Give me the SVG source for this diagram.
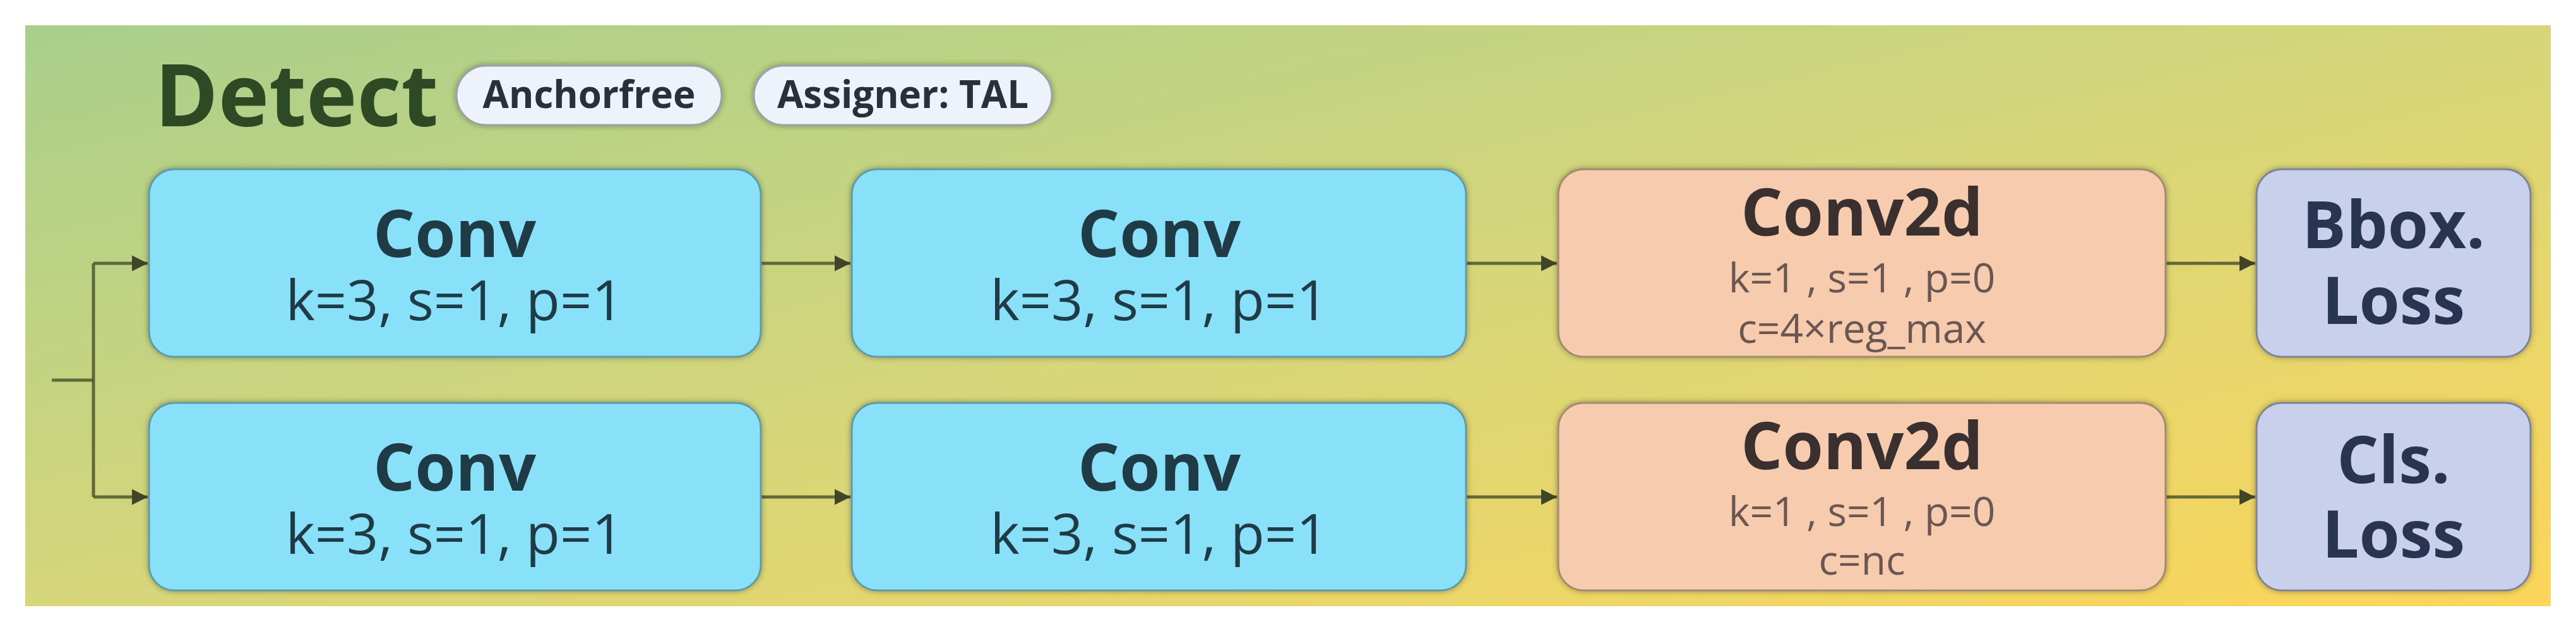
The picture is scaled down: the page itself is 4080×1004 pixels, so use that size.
<svg xmlns="http://www.w3.org/2000/svg" width="4080" height="1004" viewBox="0 0 4080 1004">
<defs>
<linearGradient id="bg" x1="0" y1="0" x2="1" y2="1">
<stop offset="0" stop-color="#a8cf8b"/>
<stop offset="0.5" stop-color="#d6d67a"/>
<stop offset="1" stop-color="#fcd559"/>
</linearGradient>
<filter id="sh" x="-10%" y="-10%" width="120%" height="120%">
<feDropShadow dx="0" dy="0" stdDeviation="5" flood-color="#000" flood-opacity="0.35"/>
</filter>
<marker id="ah" viewBox="0 0 10 10" refX="10" refY="5" markerWidth="5" markerHeight="5.5" markerUnits="strokeWidth" orient="auto">
<path d="M0,0 L10,5 L0,10 Z" fill="#3f4526"/>
</marker>
</defs>
<style>
.blue{fill:#89e0f9;stroke:#5e9aa6;stroke-width:3;filter:url(#sh)}
.peach{fill:#f7cbad;stroke:#a08a70;stroke-width:3;filter:url(#sh)}
.lav{fill:#c8d0ec;stroke:#7e8496;stroke-width:3;filter:url(#sh)}
.badge{fill:#eef2fb;stroke:#9aa0a6;stroke-width:3;filter:url(#sh)}
.t{font-family:"Open Sans","Noto Sans",sans-serif;text-anchor:middle}
.title{font-size:104px;font-weight:700}
.sub{font-size:88px;font-weight:400}
.small{font-size:64px;font-weight:400;fill:#6b5752}
.cb{fill:#1f3b45}
.cp{fill:#3b3030}
.cl{fill:#283450}
.conn{fill:none;stroke:#4e5630;stroke-width:5;stroke-opacity:0.85}
</style>
<rect x="40" y="40" width="4000" height="920" fill="url(#bg)"/>
<g id="header">
<text x="245" y="200" font-family="'Open Sans','Noto Sans',sans-serif" font-size="136" font-weight="700" fill="#2e4a24">Detect</text>
</g>
<g id="badge-anchorfree">
<rect class="badge" x="723" y="104" width="420" height="94" rx="47"/>
<text class="t" x="933" y="171" font-size="60" font-weight="700" fill="#2a2f3a">Anchorfree</text>
</g>
<g id="badge-assigner">
<rect class="badge" x="1194" y="104" width="472" height="94" rx="47"/>
<text class="t" x="1430" y="171" font-size="60" font-weight="700" fill="#2a2f3a">Assigner: TAL</text>
</g>
<g id="connectors">
<path class="conn" d="M82,602 H148"/>
<path class="conn" d="M148,417 V787"/>
<path class="conn" d="M148,417 H234" marker-end="url(#ah)"/>
<path class="conn" d="M148,787 H234" marker-end="url(#ah)"/>
<path class="conn" d="M1205,417 H1347" marker-end="url(#ah)"/>
<path class="conn" d="M1205,787 H1347" marker-end="url(#ah)"/>
<path class="conn" d="M2322,417 H2466" marker-end="url(#ah)"/>
<path class="conn" d="M2322,787 H2466" marker-end="url(#ah)"/>
<path class="conn" d="M3430,417 H3572" marker-end="url(#ah)"/>
<path class="conn" d="M3430,787 H3572" marker-end="url(#ah)"/>
</g>
<g id="conv-r1c1">
<rect class="blue" x="236" y="268" width="969" height="297" rx="40"/>
<text class="t title cb" x="720" y="407">Conv</text>
<text class="t sub cb" x="720" y="507">k=3, s=1, p=1</text>
</g>
<g id="conv-r1c2">
<rect class="blue" x="1349" y="268" width="973" height="297" rx="40"/>
<text class="t title cb" x="1836" y="407">Conv</text>
<text class="t sub cb" x="1836" y="507">k=3, s=1, p=1</text>
</g>
<g id="conv2d-r1">
<rect class="peach" x="2468" y="268" width="962" height="297" rx="40"/>
<text class="t title cp" x="2949" y="373">Conv2d</text>
<text class="t small" x="2949" y="463">k=1 , s=1 , p=0</text>
<text class="t small" x="2949" y="543">c=4×reg_max</text>
</g>
<g id="bbox-loss">
<rect class="lav" x="3574" y="268" width="434" height="297" rx="40"/>
<text class="t title cl" x="3791" y="393">Bbox.</text>
<text class="t title cl" x="3791" y="513">Loss</text>
</g>
<g id="conv-r2c1">
<rect class="blue" x="236" y="638" width="969" height="297" rx="40"/>
<text class="t title cb" x="720" y="777">Conv</text>
<text class="t sub cb" x="720" y="877">k=3, s=1, p=1</text>
</g>
<g id="conv-r2c2">
<rect class="blue" x="1349" y="638" width="973" height="297" rx="40"/>
<text class="t title cb" x="1836" y="777">Conv</text>
<text class="t sub cb" x="1836" y="877">k=3, s=1, p=1</text>
</g>
<g id="conv2d-r2">
<rect class="peach" x="2468" y="638" width="962" height="297" rx="40"/>
<text class="t title cp" x="2949" y="743">Conv2d</text>
<text class="t small" x="2949" y="833">k=1 , s=1 , p=0</text>
<text class="t small" x="2949" y="910">c=nc</text>
</g>
<g id="cls-loss">
<rect class="lav" x="3574" y="638" width="434" height="297" rx="40"/>
<text class="t title cl" x="3791" y="765">Cls.</text>
<text class="t title cl" x="3791" y="883">Loss</text>
</g>
</svg>
